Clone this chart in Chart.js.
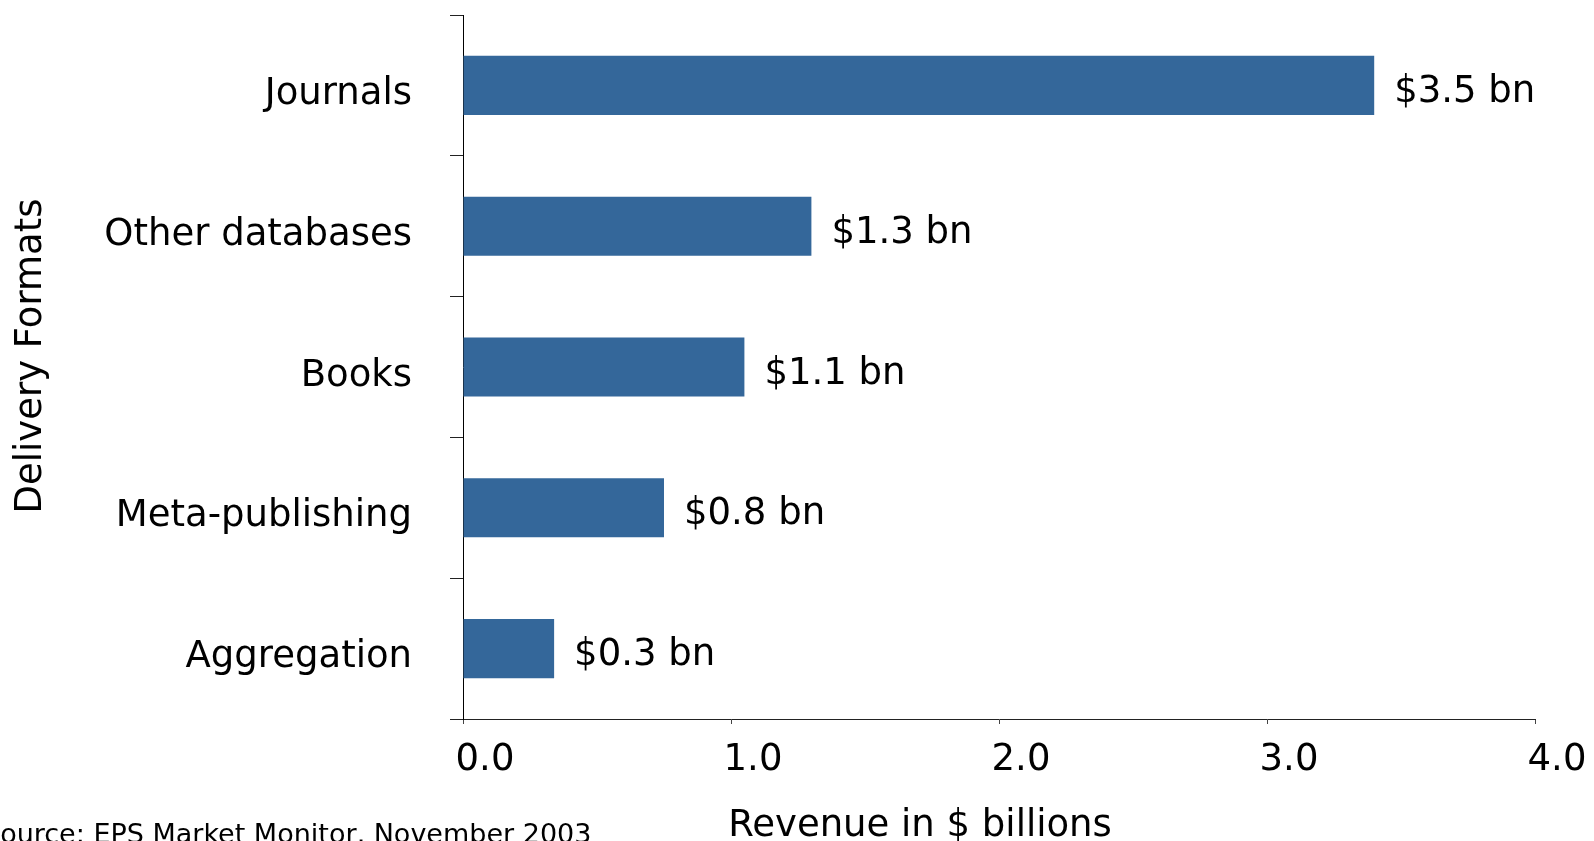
<!DOCTYPE html>
<html>
<head>
<meta charset="utf-8">
<script src="https://cdn.jsdelivr.net/npm/chart.js@4/dist/chart.umd.min.js"></script>
<style>
  html, body { margin: 0; padding: 0; background: #fff; }
  #wrap { width: 1594px; height: 841px; position: relative; }
</style>
</head>
<body>
<div id="wrap"><canvas id="revenue-chart"></canvas></div>
<script>
// Revenue by delivery format
const categories = ["Journals", "Other databases", "Books", "Meta-publishing", "Aggregation"];
const revenue = [3.40, 1.30, 1.05, 0.75, 0.34];
const valueLabels = ["$3.5 bn", "$1.3 bn", "$1.1 bn", "$0.8 bn", "$0.3 bn"];
const xMin = 0;
const xMax = 4;
const xStep = 1;
const xTitle = "Revenue in $ billions";
const yTitle = "Delivery Formats";
const sourceNote = "Source: EPS Market Monitor, November 2003";

const FONT = "'DejaVu Sans', Verdana, sans-serif";

// value labels next to each bar, plus axis titles and source note
const extraText = {
  id: "extraText",
  afterDatasetsDraw(chart) {
    const ctx = chart.ctx;
    ctx.save();
    ctx.fillStyle = "#000";
    ctx.font = "37px " + FONT;
    ctx.textAlign = "left";
    ctx.textBaseline = "middle";
    chart.getDatasetMeta(0).data.forEach((bar, i) => {
      ctx.fillText(valueLabels[i], bar.x + 20, bar.y + 7);
    });
    ctx.textBaseline = "alphabetic";
    ctx.textAlign = "center";
    ctx.fillText(xTitle, 920, 836);
    // rotated y title
    ctx.save();
    ctx.translate(31, 356);
    ctx.rotate(-Math.PI / 2);
    ctx.textBaseline = "middle";
    ctx.fillText(yTitle, 0, 0);
    ctx.restore();
    ctx.font = "27px " + FONT;
    ctx.textAlign = "left";
    ctx.fillText(sourceNote, -17, 843);
    ctx.restore();
  },
};

const revenueCtx = document.getElementById("revenue-chart").getContext("2d");
new Chart(revenueCtx, {
  type: "bar",
  data: {
    labels: categories,
    datasets: [
      {
        label: "Revenue",
        data: revenue,
        backgroundColor: "#34679a",
        borderWidth: 0,
        barPercentage: 0.42,
        categoryPercentage: 1,
      },
    ],
  },
  options: {
    indexAxis: "y",
    responsive: true,
    maintainAspectRatio: false,
    animation: false,
    layout: { padding: { top: 15, right: 59, left: 0, bottom: 0 } },
    plugins: {
      legend: { display: false },
      tooltip: { enabled: false },
    },
    scales: {
      x: {
        min: xMin,
        max: xMax,
        ticks: {
          stepSize: xStep,
          color: "#000",
          font: { family: FONT, size: 37 },
          padding: 14,
          labelOffset: 22,
          callback: (v) => Number(v).toFixed(1),
        },
        grid: { drawOnChartArea: false, tickLength: 5, color: "#444" },
        border: { color: "#222", width: 1 },
        afterFit: (scale) => {
          scale.height = 122;
          scale.paddingLeft = 0;
          scale.paddingRight = 0;
        },
      },
      y: {
        ticks: {
          color: "#000",
          font: { family: FONT, size: 37 },
          padding: 38,
          labelOffset: 9,
        },
        grid: { drawOnChartArea: false, tickLength: 13, color: "#222", offset: true },
        border: { color: "#000", width: 1 },
        afterFit: (scale) => {
          scale.width = 463;
          scale.paddingTop = 0;
          scale.paddingBottom = 0;
        },
      },
    },
  },
  plugins: [extraText],
});
</script>
</body>
</html>
